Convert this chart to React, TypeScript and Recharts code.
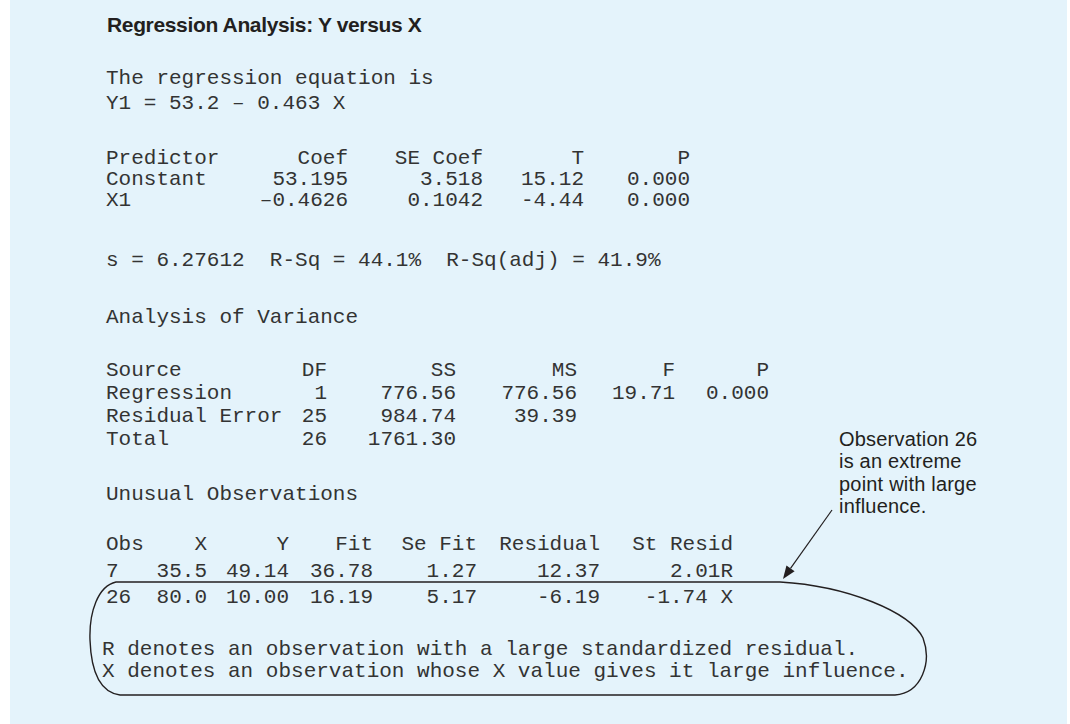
import React from "react";
import { ComposedChart, Customized } from "recharts";

// ---------- data ----------
const titleText = "Regression Analysis: Y versus X";
const equationLines = ["The regression equation is", "Y1 = 53.2 – 0.463 X"];

const predictorHeader = ["Predictor", "Coef", "SE Coef", "T", "P"];
const predictorNames = ["Constant", "X1"];
const predictorCoef = [53.195, -0.4626];
const predictorCoefDecimals = [3, 4];
const predictorSE = [3.518, 0.1042];
const predictorSEDecimals = [3, 4];
const predictorT = [15.12, -4.44];
const predictorP = [0.0, 0.0];

const fitS = 6.27612;
const fitRSq = 44.1;
const fitRSqAdj = 41.9;

const anovaTitle = "Analysis of Variance";
const anovaHeader = ["Source", "DF", "SS", "MS", "F", "P"];
const anovaSources = ["Regression", "Residual Error", "Total"];
const anovaDF = [1, 25, 26];
const anovaSS = [776.56, 984.74, 1761.3];
const anovaMS: (number | null)[] = [776.56, 39.39, null];
const anovaF: (number | null)[] = [19.71, null, null];
const anovaP: (number | null)[] = [0.0, null, null];

const unusualTitle = "Unusual Observations";
const unusualHeader = ["Obs", "X", "Y", "Fit", "Se Fit", "Residual", "St Resid"];
const unusualObs = [7, 26];
const unusualX = [35.5, 80.0];
const unusualY = [49.14, 10.0];
const unusualFit = [36.78, 16.19];
const unusualSeFit = [1.27, 5.17];
const unusualResidual = [12.37, -6.19];
const unusualStResid = [2.01, -1.74];
const unusualFlags = ["R", " X"];

const noteLines = [
  "R denotes an observation with a large standardized residual.",
  "X denotes an observation whose X value gives it large influence.",
];
const annotationLines = ["Observation 26", "is an extreme", "point with large", "influence."];

// ---------- layout ----------
const W = 1070;
const H = 724;
const MONO = "'Liberation Mono', 'Courier New', monospace";
const SANS = "'Liberation Sans', Arial, Helvetica, sans-serif";
const INK = "#231f20";
const MONO_INK = "#333333";
const MONO_SIZE = 21;

const fmt = (v: number | null, d: number, minus = "-") =>
  v === null ? "" : v < 0 ? minus + Math.abs(v).toFixed(d) : v.toFixed(d);

type TP = { x: number; y: number; end?: boolean; children: React.ReactNode };
const M = ({ x, y, end, children }: TP) => (
  <text
    x={x}
    y={y}
    textAnchor={end ? "end" : "start"}
    fontFamily={MONO}
    fontSize={MONO_SIZE}
    fill={MONO_INK}
    xmlSpace="preserve"
    style={{ whiteSpace: "pre" }}
  >
    {children}
  </text>
);

const predCols = [348, 483, 584, 690];
const predRows = [185, 206];
const anovaCols = [327, 456, 577, 675, 769];
const anovaRows = [399, 422, 445];
const unCols = [207, 289, 373, 477, 600, 733];
const unRows = [577, 603];

// arrow geometry
const arrowStart = { x: 832, y: 510 };
const arrowTip = { x: 783, y: 579 };
const headLen = 13;
const headHalf = 5;
const adx = arrowTip.x - arrowStart.x;
const ady = arrowTip.y - arrowStart.y;
const alen = Math.hypot(adx, ady);
const ux = adx / alen;
const uy = ady / alen;
const baseX = arrowTip.x - ux * headLen;
const baseY = arrowTip.y - uy * headLen;
const headPts = `${arrowTip.x},${arrowTip.y} ${baseX - uy * headHalf},${baseY + ux * headHalf} ${baseX + uy * headHalf},${baseY - ux * headHalf}`;

const Drawing = () => (
  <g>
    <rect x={10} y={0} width={1057} height={H} fill="#e4f3fb" />
    <text
      x={107}
      y={32}
      fontFamily={SANS}
      fontWeight="bold"
      fontSize={21}
      letterSpacing={-0.35}
      fill={INK}
    >
      {titleText}
    </text>

    <M x={106} y={84}>{equationLines[0]}</M>
    <M x={106} y={109}>{equationLines[1]}</M>

    {/* predictor table */}
    <M x={106} y={164}>{predictorHeader[0]}</M>
    {predictorHeader.slice(1).map((h, i) => (
      <M key={h} x={predCols[i]} y={164} end>{h}</M>
    ))}
    {predictorNames.map((n, r) => (
      <g key={n}>
        <M x={106} y={predRows[r]}>{n}</M>
        <M x={predCols[0]} y={predRows[r]} end>{fmt(predictorCoef[r], predictorCoefDecimals[r], "–")}</M>
        <M x={predCols[1]} y={predRows[r]} end>{fmt(predictorSE[r], predictorSEDecimals[r])}</M>
        <M x={predCols[2]} y={predRows[r]} end>{fmt(predictorT[r], 2)}</M>
        <M x={predCols[3]} y={predRows[r]} end>{fmt(predictorP[r], 3)}</M>
      </g>
    ))}

    <M x={106} y={266}>
      {`s = ${fitS.toFixed(5)}  R-Sq = ${fitRSq.toFixed(1)}%  R-Sq(adj) = ${fitRSqAdj.toFixed(1)}%`}
    </M>

    {/* anova */}
    <M x={106} y={323}>{anovaTitle}</M>
    <M x={106} y={376}>{anovaHeader[0]}</M>
    {anovaHeader.slice(1).map((h, i) => (
      <M key={h} x={anovaCols[i]} y={376} end>{h}</M>
    ))}
    {anovaSources.map((s, r) => (
      <g key={s}>
        <M x={106} y={anovaRows[r]}>{s}</M>
        <M x={anovaCols[0]} y={anovaRows[r]} end>{String(anovaDF[r])}</M>
        <M x={anovaCols[1]} y={anovaRows[r]} end>{fmt(anovaSS[r], 2)}</M>
        <M x={anovaCols[2]} y={anovaRows[r]} end>{fmt(anovaMS[r], 2)}</M>
        <M x={anovaCols[3]} y={anovaRows[r]} end>{fmt(anovaF[r], 2)}</M>
        <M x={anovaCols[4]} y={anovaRows[r]} end>{fmt(anovaP[r], 3)}</M>
      </g>
    ))}

    {/* unusual observations */}
    <M x={106} y={500}>{unusualTitle}</M>
    <M x={106} y={550}>{unusualHeader[0]}</M>
    {unusualHeader.slice(1).map((h, i) => (
      <M key={h} x={unCols[i]} y={550} end>{h}</M>
    ))}
    {unusualObs.map((o, r) => (
      <g key={o}>
        <M x={106} y={unRows[r]}>{String(o)}</M>
        <M x={unCols[0]} y={unRows[r]} end>{fmt(unusualX[r], 1)}</M>
        <M x={unCols[1]} y={unRows[r]} end>{fmt(unusualY[r], 2)}</M>
        <M x={unCols[2]} y={unRows[r]} end>{fmt(unusualFit[r], 2)}</M>
        <M x={unCols[3]} y={unRows[r]} end>{fmt(unusualSeFit[r], 2)}</M>
        <M x={unCols[4]} y={unRows[r]} end>{fmt(unusualResidual[r], 2)}</M>
        <M x={unCols[5]} y={unRows[r]} end>{fmt(unusualStResid[r], 2) + unusualFlags[r]}</M>
      </g>
    ))}
    <M x={102} y={655}>{noteLines[0]}</M>
    <M x={102} y={677}>{noteLines[1]}</M>

    {/* outline around observation 26 and notes */}
    <path
      d="M 780 582 L 116 582 C 98 586 89 612 90 640 C 91 668 98 692 120 695 L 895 695 C 922 693 932 662 923 638 C 910 612 848 586 780 582 Z"
      fill="none"
      stroke={INK}
      strokeWidth={1.4}
    />

    {/* annotation */}
    {annotationLines.map((t, i) => (
      <text
        key={t}
        x={839}
        y={446 + i * 22.3}
        fontFamily={SANS}
        fontSize={20}
        letterSpacing={0.2}
        fill={INK}
      >
        {t}
      </text>
    ))}
    <line x1={arrowStart.x} y1={arrowStart.y} x2={baseX} y2={baseY} stroke={INK} strokeWidth={1.2} />
    <polygon points={headPts} fill={INK} />
  </g>
);

export default function App() {
  return (
    <div style={{ position: "absolute", left: 0, top: 0, background: "#ffffff" }}>
      <ComposedChart width={W} height={H} data={[]} margin={{ top: 0, right: 0, bottom: 0, left: 0 }}>
        <Customized component={Drawing} />
      </ComposedChart>
    </div>
  );
}
